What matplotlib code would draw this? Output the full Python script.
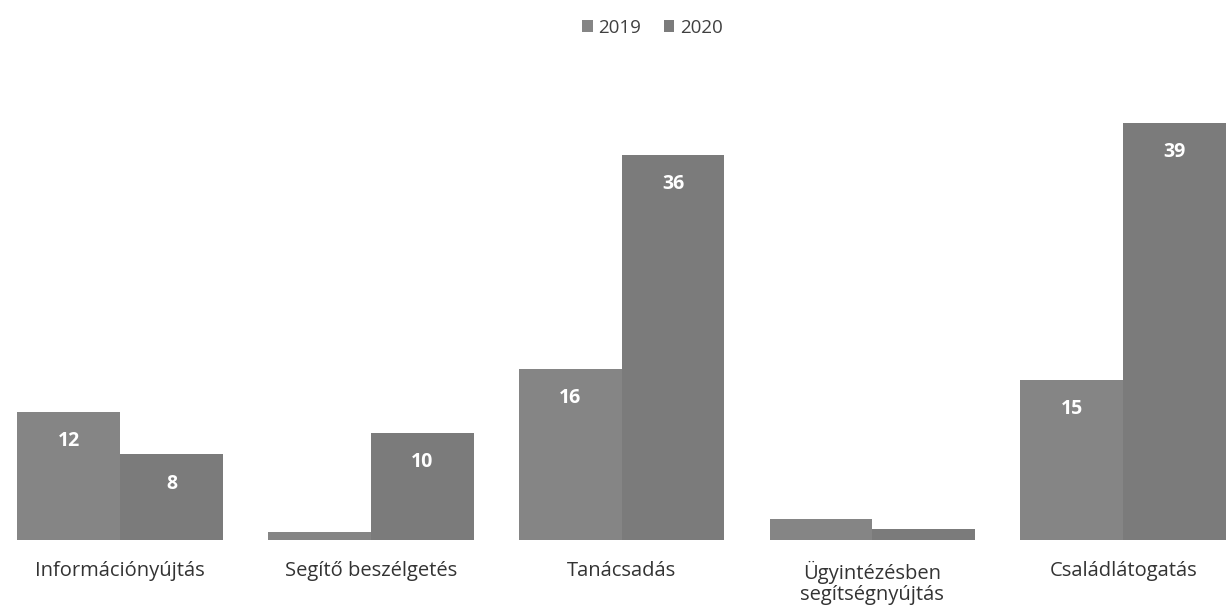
import matplotlib.pyplot as plt
import numpy as np

CATEGORIES = ["Információnyújtás", "Segítő beszélgetés", "Tanácsadás",
              "Ügyintézésben\nsegítségnyújtás", "Családlátogatás"]
SERIES = ["2019", "2020"]
VALUES_2019 = [12, 0.8, 16, 2, 15]
VALUES_2020 = [8, 10, 36, 1, 39]
# small bars have no printed label in the original
LABELS_2019 = ["12", "", "16", "", "15"]
LABELS_2020 = ["8", "10", "36", "", "39"]

colors = ["#858585", "#7b7b7b"]

fig = plt.figure(figsize=(12.31, 6.11), dpi=100)
ax = fig.add_axes([0, 0.116, 1, 0.72])

x = np.arange(len(CATEGORIES))
width = 0.41

bars1 = ax.bar(x - width / 2, VALUES_2019, width, color=colors[0], label=SERIES[0])
bars2 = ax.bar(x + width / 2, VALUES_2020, width, color=colors[1], label=SERIES[1])

for bars, labels in ((bars1, LABELS_2019), (bars2, LABELS_2020)):
    for b, lab in zip(bars, labels):
        if not lab:
            continue
        ax.annotate(lab, (b.get_x() + b.get_width() / 2, b.get_height()),
                    xytext=(0, -21), textcoords="offset points",
                    ha="center", va="center", color="white",
                    fontsize=14, fontweight="bold", family="Open Sans")

ax.set_xlim(-0.479, 4.43)
ax.set_ylim(0, 41.1)
ax.set_xticks(x)
ax.set_xticklabels(CATEGORIES, fontsize=14.5, color="#333333", family="Open Sans",
                   linespacing=1.05)
ax.tick_params(axis="x", length=0, pad=15)
ax.set_yticks([])
for s in ax.spines.values():
    s.set_visible(False)

fig.legend(loc="upper center", bbox_to_anchor=(0.53, 0.997), ncol=2, frameon=False,
           prop={"family": "Open Sans", "size": 13.5}, labelcolor="#404040",
           handlelength=0.55, handleheight=0.55, handletextpad=0.3, columnspacing=1.2)

fig.savefig("out.png", dpi=100)
